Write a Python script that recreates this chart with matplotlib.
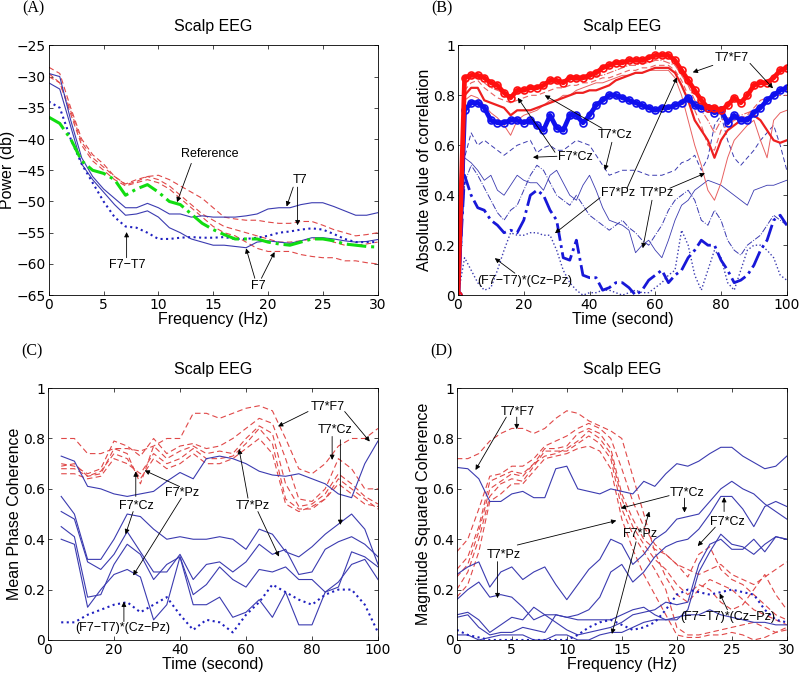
import numpy as np
import matplotlib
matplotlib.use('Agg')
import matplotlib.pyplot as plt

plt.rcParams['font.family'] = ['Liberation Sans', 'DejaVu Sans']
plt.rcParams['axes.linewidth'] = 0.6

# ---------------- panel A : power spectra ----------------
freq_a = np.arange(0, 31)
a_t7 = [-29.5, -30, -37, -43, -46, -48, -49.5, -51, -51, -50.3, -51, -52, -52, -52.5, -52.3, -52.5,
        -52.5, -52.5, -52.3, -52, -51.2, -51, -51, -50.5, -50.2, -50.2, -50.8, -51.5, -52.2, -52.2, -51.8]
a_f7 = [-31, -32, -38, -44, -46.5, -48.5, -50.5, -52.2, -52, -51.5, -52.5, -54.2, -55, -56, -56.5, -57,
        -57, -57.2, -57.4, -56.5, -56.3, -56.5, -56.7, -56.3, -55.8, -55.8, -56, -56.3, -56.5, -56.4, -56.1]
a_red1 = [-28.5, -29.5, -35, -40, -42.5, -44, -46, -47.2, -46.5, -46, -45.8, -46.5, -47.5, -48.5, -49.5, -51,
          -52.5, -52.8, -53, -53, -53.3, -53.5, -53.5, -53.2, -53.2, -53.8, -54.5, -55, -55.5, -55.3, -55]
a_red2 = [-29.5, -31, -35.5, -40.5, -43, -44.5, -46, -47.3, -46.8, -46, -46.5, -47.5, -49, -50.5, -52, -53,
          -54, -54.5, -55, -55.5, -56, -56.5, -56.5, -56.3, -56, -56, -56.5, -57, -57, -56.8, -56.5]
a_red3 = [-30, -31, -36, -41, -43.5, -45, -46.5, -47.5, -47, -46.5, -47, -48, -49.5, -51, -52.5, -54,
          -55, -55.5, -56.5, -57.5, -58, -58, -58, -58.5, -58.8, -59, -59, -59.5, -59.5, -59.8, -60]
a_ref = [-36.5, -37.5, -40, -43.5, -45, -45.5, -46.5, -49, -48, -47.3, -48.5, -50, -50.5, -52, -53.5, -54.5,
         -55.3, -56, -56, -56, -56.5, -56.8, -57, -56.5, -56, -56, -56.3, -56.8, -57, -57.2, -57.3]
a_diff = [-34, -35, -40, -44, -47, -50, -52.5, -54, -54.2, -55, -56, -56, -55.8, -55.7, -55.8, -55.8,
          -55.7, -56, -56, -55.8, -55.5, -55, -54.8, -54.5, -54.3, -54.5, -55.2, -56, -56.5, -56.5, -56.5]

# ---------------- panel B : correlation over time ----------------
t_b = np.arange(0, 101, 2)
b_t7f7 = [0.0, 0.87, 0.88, 0.88, 0.87, 0.85, 0.84, 0.81, 0.79, 0.82, 0.82, 0.83, 0.83, 0.84, 0.86, 0.86, 0.85,
          0.87, 0.87, 0.87, 0.88, 0.89, 0.91, 0.92, 0.93, 0.93, 0.94, 0.94, 0.94, 0.95, 0.96, 0.96, 0.96, 0.94,
          0.90, 0.86, 0.82, 0.78, 0.75, 0.75, 0.74, 0.76, 0.79, 0.77, 0.80, 0.84, 0.85, 0.85, 0.87, 0.90, 0.91]
b_blue_thick = [0.0, 0.74, 0.77, 0.77, 0.75, 0.70, 0.69, 0.69, 0.70, 0.70, 0.69, 0.70, 0.68, 0.66, 0.72, 0.67,
                0.66, 0.72, 0.72, 0.69, 0.72, 0.76, 0.78, 0.80, 0.80, 0.79, 0.78, 0.77, 0.76, 0.75, 0.74, 0.75,
                0.75, 0.76, 0.77, 0.79, 0.76, 0.75, 0.75, 0.73, 0.74, 0.69, 0.72, 0.70, 0.70, 0.73, 0.75, 0.78,
                0.80, 0.82, 0.83]
b_red_mid = [0.0, 0.80, 0.83, 0.83, 0.78, 0.77, 0.76, 0.75, 0.72, 0.74, 0.74, 0.74, 0.75, 0.76, 0.77, 0.78,
             0.79, 0.80, 0.81, 0.81, 0.82, 0.82, 0.83, 0.84, 0.86, 0.87, 0.88, 0.89, 0.89, 0.90, 0.91, 0.91,
             0.91, 0.89, 0.84, 0.78, 0.70, 0.66, 0.62, 0.55, 0.62, 0.66, 0.68, 0.70, 0.71, 0.72, 0.70, 0.66,
             0.62, 0.61, 0.62]
b_red_thin = [0.0, 0.78, 0.80, 0.79, 0.76, 0.73, 0.71, 0.68, 0.64, 0.70, 0.72, 0.73, 0.74, 0.76, 0.78, 0.78,
              0.80, 0.80, 0.82, 0.83, 0.84, 0.85, 0.85, 0.86, 0.87, 0.88, 0.88, 0.89, 0.89, 0.90, 0.90, 0.90,
              0.90, 0.87, 0.80, 0.70, 0.60, 0.52, 0.42, 0.38, 0.45, 0.55, 0.62, 0.65, 0.68, 0.70, 0.62, 0.55,
              0.70, 0.73, 0.74]
b_red_dash = [0.0, 0.82, 0.85, 0.86, 0.83, 0.81, 0.79, 0.78, 0.77, 0.78, 0.79, 0.80, 0.80, 0.81, 0.82, 0.83,
              0.83, 0.84, 0.84, 0.85, 0.85, 0.86, 0.87, 0.87, 0.88, 0.89, 0.90, 0.90, 0.91, 0.91, 0.92, 0.92,
              0.92, 0.90, 0.86, 0.80, 0.74, 0.68, 0.60, 0.58, 0.66, 0.68, 0.70, 0.71, 0.72, 0.75, 0.78, 0.79,
              0.80, 0.80, 0.80]
b_red_dashdot = [0.0, 0.85, 0.87, 0.87, 0.85, 0.83, 0.82, 0.81, 0.80, 0.81, 0.82, 0.83, 0.83, 0.84, 0.85, 0.85,
                 0.85, 0.86, 0.86, 0.86, 0.87, 0.88, 0.88, 0.89, 0.90, 0.91, 0.92, 0.92, 0.93, 0.93, 0.94, 0.94,
                 0.93, 0.92, 0.88, 0.84, 0.78, 0.74, 0.70, 0.65, 0.70, 0.71, 0.72, 0.72, 0.73, 0.74, 0.76, 0.78,
                 0.80, 0.81, 0.82]
b_blue_dash = [0.0, 0.55, 0.65, 0.60, 0.62, 0.60, 0.58, 0.56, 0.58, 0.60, 0.61, 0.62, 0.57, 0.59, 0.60, 0.58,
               0.58, 0.60, 0.62, 0.61, 0.60, 0.56, 0.52, 0.48, 0.49, 0.50, 0.50, 0.50, 0.49, 0.48, 0.48, 0.48,
               0.49, 0.50, 0.53, 0.54, 0.56, 0.50, 0.55, 0.68, 0.72, 0.62, 0.55, 0.52, 0.55, 0.58, 0.62, 0.65,
               0.68, 0.60, 0.50]
b_blue_solid = [0.0, 0.55, 0.53, 0.50, 0.46, 0.48, 0.42, 0.40, 0.44, 0.48, 0.46, 0.45, 0.45, 0.42, 0.48, 0.50,
                0.45, 0.40, 0.38, 0.44, 0.48, 0.42, 0.35, 0.30, 0.29, 0.28, 0.26, 0.17, 0.20, 0.22, 0.18, 0.15,
                0.22, 0.30, 0.36, 0.38, 0.42, 0.44, 0.46, 0.45, 0.44, 0.42, 0.40, 0.38, 0.36, 0.42, 0.43, 0.44,
                0.44, 0.45, 0.46]
b_blue_dashdot = [0.0, 0.45, 0.52, 0.48, 0.43, 0.38, 0.33, 0.30, 0.34, 0.36, 0.42, 0.48, 0.52, 0.50, 0.45, 0.40,
                  0.38, 0.36, 0.40, 0.36, 0.32, 0.30, 0.28, 0.26, 0.28, 0.30, 0.27, 0.25, 0.22, 0.20, 0.24, 0.28,
                  0.34, 0.38, 0.40, 0.42, 0.38, 0.30, 0.28, 0.34, 0.30, 0.22, 0.18, 0.16, 0.20, 0.22, 0.24, 0.28,
                  0.32, 0.30, 0.28]
b_f7pz = [0.0, 0.48, 0.40, 0.35, 0.34, 0.30, 0.28, 0.25, 0.26, 0.25, 0.30, 0.40, 0.42, 0.40, 0.34, 0.30, 0.15,
          0.14, 0.22, 0.08, 0.07, 0.07, 0.02, 0.03, 0.05, 0.05, 0.03, 0.00, 0.02, 0.06, 0.08, 0.10, 0.05, 0.08,
          0.10, 0.15, 0.18, 0.22, 0.20, 0.20, 0.14, 0.10, 0.05, 0.06, 0.08, 0.12, 0.18, 0.22, 0.30, 0.32, 0.28]
b_diff = [0.0, 0.15, 0.10, 0.05, 0.02, 0.03, 0.10, 0.18, 0.25, 0.24, 0.24, 0.25, 0.25, 0.24, 0.24, 0.18, 0.10,
          0.05, 0.02, 0.00, 0.01, 0.01, 0.02, 0.02, 0.01, 0.00, 0.01, 0.02, 0.01, 0.01, 0.03, 0.05, 0.08, 0.10,
          0.26, 0.20, 0.08, 0.02, 0.10, 0.18, 0.15, 0.05, 0.02, 0.10, 0.18, 0.20, 0.20, 0.18, 0.15, 0.08, 0.06]

# ---------------- panel C : mean phase coherence ----------------
t_c = np.arange(4, 101, 4)
c_blue = [
    [0.73, 0.71, 0.61, 0.60, 0.58, 0.57, 0.58, 0.59, 0.63, 0.665, 0.64, 0.72, 0.73, 0.72, 0.70, 0.67, 0.655,
     0.65, 0.66, 0.64, 0.62, 0.58, 0.565, 0.70, 0.79],
    [0.57, 0.50, 0.32, 0.32, 0.40, 0.50, 0.49, 0.44, 0.40, 0.41, 0.40, 0.40, 0.41, 0.40, 0.36, 0.44, 0.42,
     0.35, 0.33, 0.37, 0.42, 0.46, 0.50, 0.44, 0.30],
    [0.51, 0.48, 0.31, 0.28, 0.34, 0.43, 0.35, 0.27, 0.27, 0.34, 0.24, 0.30, 0.31, 0.27, 0.31, 0.38, 0.34,
     0.36, 0.26, 0.27, 0.36, 0.39, 0.41, 0.38, 0.33],
    [0.45, 0.41, 0.17, 0.18, 0.30, 0.38, 0.34, 0.24, 0.30, 0.33, 0.18, 0.22, 0.29, 0.24, 0.21, 0.28, 0.27,
     0.29, 0.24, 0.24, 0.19, 0.21, 0.35, 0.33, 0.29],
    [0.40, 0.38, 0.13, 0.20, 0.26, 0.28, 0.25, 0.08, 0.14, 0.33, 0.14, 0.14, 0.17, 0.09, 0.11, 0.16, 0.09,
     0.19, 0.06, 0.06, 0.19, 0.23, 0.30, 0.32, 0.24],
]
c_diff = [0.07, 0.07, 0.10, 0.12, 0.14, 0.15, 0.11, 0.14, 0.17, 0.10, 0.04, 0.08, 0.07, 0.03, 0.10, 0.15,
          0.22, 0.19, 0.16, 0.14, 0.18, 0.20, 0.20, 0.14, 0.03]
c_red = [
    [0.80, 0.80, 0.74, 0.74, 0.76, 0.76, 0.75, 0.77, 0.80, 0.80, 0.90, 0.90, 0.88, 0.90, 0.92, 0.93, 0.91,
     0.80, 0.68, 0.66, 0.70, 0.77, 0.80, 0.80, 0.84],
    [0.70, 0.69, 0.66, 0.68, 0.79, 0.77, 0.73, 0.80, 0.74, 0.77, 0.78, 0.76, 0.77, 0.80, 0.84, 0.88, 0.86,
     0.72, 0.56, 0.55, 0.60, 0.72, 0.68, 0.60, 0.60],
    [0.68, 0.68, 0.65, 0.66, 0.76, 0.74, 0.62, 0.77, 0.72, 0.75, 0.77, 0.74, 0.75, 0.74, 0.80, 0.85, 0.82,
     0.62, 0.53, 0.54, 0.58, 0.66, 0.62, 0.57, 0.54],
    [0.66, 0.66, 0.64, 0.65, 0.72, 0.70, 0.66, 0.74, 0.70, 0.72, 0.76, 0.72, 0.72, 0.73, 0.78, 0.84, 0.78,
     0.56, 0.52, 0.52, 0.56, 0.62, 0.58, 0.54, 0.53],
    [0.69, 0.70, 0.65, 0.67, 0.74, 0.72, 0.64, 0.72, 0.68, 0.70, 0.74, 0.70, 0.70, 0.72, 0.76, 0.80, 0.74,
     0.54, 0.51, 0.53, 0.56, 0.64, 0.60, 0.56, 0.52],
]

# ---------------- panel D : magnitude squared coherence ----------------
freq_d = np.arange(0, 31)
d_blue = [
    [0.685, 0.68, 0.64, 0.55, 0.55, 0.58, 0.59, 0.565, 0.565, 0.68, 0.69, 0.60, 0.59, 0.58, 0.60, 0.59,
     0.58, 0.63, 0.61, 0.66, 0.70, 0.69, 0.71, 0.74, 0.765, 0.765, 0.73, 0.705, 0.68, 0.69, 0.73],
    [0.26, 0.29, 0.31, 0.21, 0.27, 0.29, 0.24, 0.27, 0.29, 0.22, 0.16, 0.22, 0.28, 0.32, 0.40, 0.38,
     0.30, 0.34, 0.40, 0.43, 0.48, 0.49, 0.50, 0.55, 0.60, 0.63, 0.60, 0.58, 0.54, 0.51, 0.48],
    [0.16, 0.20, 0.23, 0.17, 0.18, 0.17, 0.13, 0.08, 0.10, 0.10, 0.09, 0.10, 0.12, 0.17, 0.27, 0.30,
     0.23, 0.27, 0.33, 0.37, 0.39, 0.40, 0.44, 0.50, 0.57, 0.57, 0.52, 0.45, 0.53, 0.55, 0.53],
    [0.10, 0.11, 0.08, 0.03, 0.06, 0.09, 0.08, 0.13, 0.10, 0.07, 0.04, 0.02, 0.03, 0.04, 0.05, 0.07,
     0.10, 0.11, 0.12, 0.15, 0.14, 0.15, 0.30, 0.38, 0.40, 0.36, 0.36, 0.40, 0.35, 0.41, 0.40],
    [0.09, 0.10, 0.05, 0.02, 0.03, 0.03, 0.05, 0.04, 0.03, 0.10, 0.09, 0.08, 0.08, 0.08, 0.08, 0.10,
     0.12, 0.13, 0.10, 0.08, 0.08, 0.12, 0.27, 0.35, 0.42, 0.38, 0.37, 0.34, 0.38, 0.41, 0.40],
    [0.02, 0.02, 0.00, 0.01, 0.02, 0.02, 0.02, 0.00, 0.00, 0.02, 0.02, 0.00, 0.00, 0.02, 0.03, 0.03,
     0.05, 0.07, 0.08, 0.08, 0.09, 0.10, 0.10, 0.12, 0.10, 0.09, 0.08, 0.07, 0.07, 0.06, 0.06],
]
d_diff = [0.04, 0.02, 0.01, 0.00, 0.00, 0.00, 0.00, 0.00, 0.00, 0.00, 0.00, 0.02, 0.05, 0.07, 0.08, 0.06,
          0.04, 0.05, 0.07, 0.12, 0.18, 0.20, 0.19, 0.18, 0.19, 0.20, 0.19, 0.18, 0.12, 0.08, 0.07]
d_red = [
    [0.72, 0.72, 0.74, 0.79, 0.82, 0.84, 0.84, 0.82, 0.84, 0.88, 0.91, 0.90, 0.87, 0.85, 0.83, 0.80,
     0.65, 0.50, 0.35, 0.25, 0.18, 0.15, 0.20, 0.24, 0.22, 0.20, 0.16, 0.12, 0.10, 0.08, 0.06],
    [0.35, 0.40, 0.52, 0.65, 0.66, 0.69, 0.69, 0.72, 0.77, 0.79, 0.81, 0.84, 0.86, 0.84, 0.80, 0.68,
     0.55, 0.45, 0.38, 0.34, 0.30, 0.28, 0.26, 0.28, 0.30, 0.26, 0.24, 0.22, 0.25, 0.28, 0.31],
    [0.28, 0.33, 0.45, 0.63, 0.65, 0.67, 0.66, 0.70, 0.76, 0.76, 0.77, 0.82, 0.84, 0.82, 0.76, 0.58,
     0.48, 0.40, 0.36, 0.34, 0.30, 0.25, 0.34, 0.37, 0.28, 0.24, 0.22, 0.18, 0.14, 0.10, 0.08],
    [0.20, 0.27, 0.40, 0.57, 0.62, 0.64, 0.63, 0.69, 0.75, 0.75, 0.75, 0.78, 0.81, 0.78, 0.72, 0.52,
     0.42, 0.35, 0.28, 0.20, 0.05, 0.02, 0.02, 0.03, 0.04, 0.05, 0.06, 0.07, 0.05, 0.03, 0.04],
    [0.17, 0.22, 0.35, 0.55, 0.58, 0.62, 0.62, 0.67, 0.72, 0.73, 0.74, 0.76, 0.77, 0.75, 0.68, 0.48,
     0.36, 0.26, 0.18, 0.10, 0.02, 0.01, 0.01, 0.02, 0.02, 0.03, 0.02, 0.00, 0.01, 0.03, 0.05],
    [0.25, 0.30, 0.43, 0.60, 0.63, 0.66, 0.65, 0.70, 0.73, 0.74, 0.76, 0.79, 0.83, 0.80, 0.74, 0.56,
     0.45, 0.38, 0.32, 0.28, 0.22, 0.18, 0.22, 0.20, 0.15, 0.12, 0.14, 0.20, 0.26, 0.18, 0.12],
]

BLUE = '#3b3bb0'
RED = '#e04848'
DASH = (0, (5, 3))
FS = 11.5
TICK_FS = 10
NOTE_FS = 9


def arrow(ax, sx, sy, ex, ey):
    ax.annotate('', xy=(ex, ey), xytext=(sx, sy),
                arrowprops=dict(arrowstyle='-|>', color='k', lw=0.6,
                                mutation_scale=7, shrinkA=0, shrinkB=0))


def note(ax, text, x, y, arrows):
    ax.text(x, y, text, fontsize=NOTE_FS, ha='center', va='center')
    for a in arrows:
        arrow(ax, *a)


def style(ax, xlim, ylim, xticks, yticks, xlabels, ylabels, xlabel, ylabel, tag):
    ax.set_xlim(xlim)
    ax.set_ylim(ylim)
    ax.set_xticks(xticks)
    ax.set_yticks(yticks)
    ax.set_xticklabels(xlabels, fontsize=TICK_FS, family='DejaVu Sans')
    ax.set_yticklabels(ylabels, fontsize=TICK_FS, family='DejaVu Sans')
    ax.tick_params(direction='in', top=True, right=True, length=3, width=0.5, pad=2)
    ax.set_xlabel(xlabel, fontsize=FS, labelpad=0)
    ax.set_ylabel(ylabel, fontsize=FS, labelpad=1)
    ax.set_title('Scalp EEG', fontsize=FS, pad=10)
    ax.text(-0.08, 1.147, tag, transform=ax.transAxes, fontsize=11.5,
            family='Liberation Serif', ha='left', va='center')


fig = plt.figure(figsize=(8, 6.77), dpi=100)

# ---- A ----
ax = fig.add_axes([0.061, 0.564, 0.411, 0.369])
ax.plot(freq_a, a_red1, color=RED, ls=DASH, lw=0.8)
ax.plot(freq_a, a_red2, color=RED, ls=DASH, lw=0.8)
ax.plot(freq_a, a_red3, color=RED, ls=DASH, lw=0.8)
ax.plot(freq_a, a_t7, color=BLUE, lw=0.8)
ax.plot(freq_a, a_f7, color=BLUE, lw=0.8)
ax.plot(freq_a, a_diff, color='#2020c0', ls=':', lw=1.5)
ax.plot(freq_a, a_ref, color='#11dd11', ls='-.', lw=2.2)
style(ax, (0, 30), (-65, -25), range(0, 31, 5), range(-65, -24, 5),
      [str(v) for v in range(0, 31, 5)], ['\u2212' + str(-v) for v in range(-65, -24, 5)],
      'Frequency (Hz)', 'Power (db)', '(A)')
note(ax, 'Reference', 14.7, -42.4, [(13.0, -43.9, 11.7, -50.1)])
note(ax, 'T7', 22.9, -46.6, [(22.3, -47.7, 21.7, -50.8), (22.7, -47.7, 22.7, -53.8)])
note(ax, 'F7\u2212T7', 7.2, -60.2, [(7.1, -59.0, 7.1, -54.9)])
note(ax, 'F7', 19.1, -63.6, [(18.8, -62.3, 18.0, -57.5), (19.4, -62.3, 20.6, -58.1)])

# ---- B ----
ax = fig.add_axes([0.5725, 0.564, 0.411, 0.369])
ax.plot(t_b, b_blue_solid, color=BLUE, lw=0.6)
ax.plot(t_b, b_blue_dash, color=BLUE, ls=DASH, lw=0.7)
ax.plot(t_b, b_blue_dashdot, color=BLUE, ls='-.', lw=0.7)
ax.plot(t_b, b_diff, color=BLUE, ls=':', lw=1.0)
ax.plot(t_b, b_f7pz, color='#1818d8', ls='-.', lw=2.0)
ax.plot(t_b, b_red_thin, color='#e86060', lw=0.7)
ax.plot(t_b, b_red_dash, color='#e86060', ls=DASH, lw=0.8)
ax.plot(t_b, b_red_dashdot, color='#e86060', ls='-.', lw=0.8)
ax.plot(t_b, b_red_mid, color='#ee2020', lw=1.6)
ax.plot(t_b, b_blue_thick, color='#1010ee', lw=3.4, marker='o', ms=5, mfc='none', mew=1.2)
ax.plot(t_b, b_t7f7, color='#ff1010', lw=3.4, marker='o', ms=5, mfc='none', mew=1.2)
yl = ['0', '0.2', '0.4', '0.6', '0.8', '1']
style(ax, (0, 100), (0, 1), range(0, 101, 20), np.linspace(0, 1, 6),
      [str(v) for v in range(0, 101, 20)], yl,
      'Time (second)', 'Absolute value of correlation', '(B)')
note(ax, 'T7*F7', 83.3, 0.948, [(77.5, 0.92, 71.4, 0.892), (88.8, 0.928, 95.8, 0.828)])
note(ax, 'T7*Cz', 47.7, 0.64, [(43.8, 0.668, 26.4, 0.80), (46.8, 0.612, 44.7, 0.50)])
note(ax, 'F7*Cz', 35.6, 0.552, [(29.5, 0.572, 18.2, 0.79), (30.1, 0.556, 22.8, 0.552)])
note(ax, 'F7*Pz', 48.6, 0.408, [(51.4, 0.428, 66.6, 0.872), (43.2, 0.39, 29.5, 0.248)])
note(ax, 'T7*Pz', 60.5, 0.408, [(64.4, 0.428, 75.1, 0.488), (59.0, 0.38, 56.2, 0.188)])
note(ax, '(F7\u2212T7)*(Cz\u2212Pz)', 20.4, 0.056, [(17.3, 0.088, 11.2, 0.148)])

# ---- C ----
ax = fig.add_axes([0.060, 0.0547, 0.4125, 0.372])
for s in c_red:
    ax.plot(t_c, s, color=RED, ls=DASH, lw=0.8)
for s in c_blue:
    ax.plot(t_c, s, color=BLUE, lw=0.8)
ax.plot(t_c, c_diff, color='#2020c0', ls=':', lw=1.5)
style(ax, (0, 100), (0, 1), range(0, 101, 20), np.linspace(0, 1, 6),
      [str(v) for v in range(0, 101, 20)], yl,
      'Time (second)', 'Mean Phase Coherence', '(C)')
note(ax, 'T7*F7', 84.8, 0.925, [(78.8, 0.907, 69.7, 0.848), (89.9, 0.907, 97.5, 0.788)])
note(ax, 'T7*Cz', 86.9, 0.832, [(86.1, 0.808, 86.1, 0.715), (88.6, 0.795, 88.6, 0.457)])
note(ax, 'F7*Pz', 40.7, 0.585, [(39.9, 0.609, 29.3, 0.673), (40.4, 0.563, 25.8, 0.256)])
note(ax, 'F7*Cz', 26.8, 0.532, [(26.6, 0.570, 26.6, 0.669), (25.8, 0.51, 23.5, 0.42)])
note(ax, 'T7*Pz', 61.9, 0.532, [(60.6, 0.563, 57.9, 0.758), (63.6, 0.51, 70.0, 0.331)])
note(ax, '(F7\u2212T7)*(Cz\u2212Pz)', 22.7, 0.046, [(23.0, 0.073, 23.0, 0.152)])

# ---- D ----
ax = fig.add_axes([0.571, 0.0547, 0.4125, 0.372])
for s in d_red:
    ax.plot(freq_d, s, color=RED, ls=DASH, lw=0.8)
for s in d_blue:
    ax.plot(freq_d, s, color=BLUE, lw=0.8)
ax.plot(freq_d, d_diff, color='#2020c0', ls=':', lw=1.5)
style(ax, (0, 30), (0, 1), range(0, 31, 5), np.linspace(0, 1, 6),
      [str(v) for v in range(0, 31, 5)], yl,
      'Frequency (Hz)', 'Magnitude Squared Coherence', '(D)')
note(ax, 'T7*F7', 5.5, 0.907, [(5.45, 0.885, 5.45, 0.837), (4.5, 0.885, 1.7, 0.675)])
note(ax, 'T7*Cz', 20.9, 0.583, [(19.3, 0.573, 14.9, 0.523), (20.7, 0.563, 20.7, 0.506)])
note(ax, 'F7*Pz', 16.7, 0.421, [(17.1, 0.45, 17.5, 0.51), (16.3, 0.39, 14.1, 0.024)])
note(ax, 'T7*Pz', 4.3, 0.336, [(5.5, 0.377, 14.5, 0.474), (3.7, 0.311, 3.7, 0.166)])
note(ax, 'F7*Cz', 24.6, 0.47, [(24.3, 0.51, 24.3, 0.567), (23.5, 0.448, 21.9, 0.373)])
note(ax, '(F7\u2212T7)*(Cz\u2212Pz)', 24.6, 0.09, [(24.6, 0.12, 23.9, 0.185)])

fig.savefig('out.png', dpi=100)
